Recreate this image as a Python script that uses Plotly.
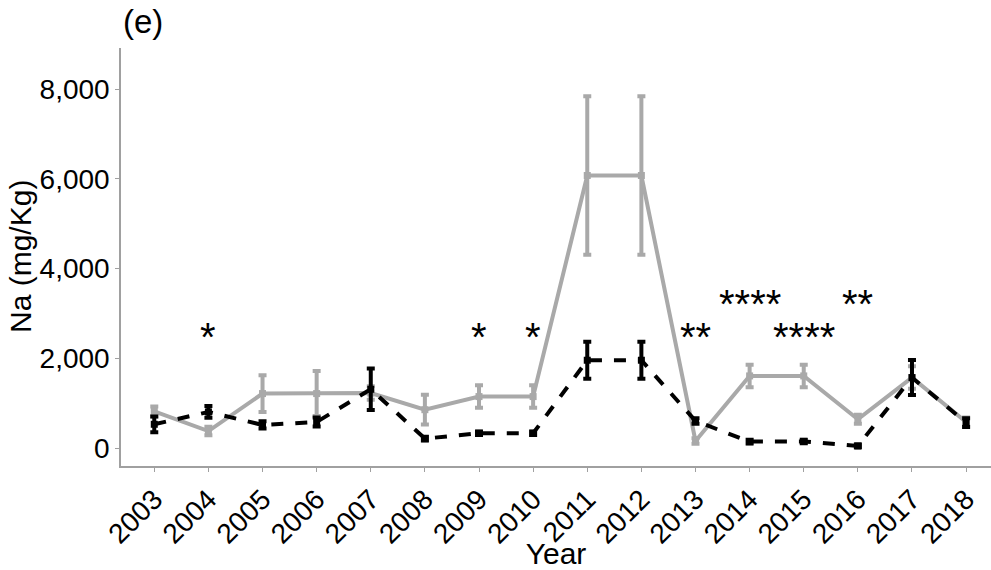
import plotly.graph_objects as go

years = [str(y) for y in range(2003, 2019)]
gray_mean = [820, 385, 1219, 1219, 1230, 860, 1152, 1152, 6075, 6075, 163, 1612, 1612, 646, 1575, 587]
gray_err = [110, 95, 410, 500, 150, 330, 250, 250, 1765, 1765, 60, 250, 250, 100, 250, 100]
black_mean = [535, 810, 520, 587, 1315, 216, 334, 334, 1961, 1961, 609, 149, 153, 52, 1575, 572]
black_err = [175, 130, 80, 100, 460, 40, 40, 40, 410, 410, 60, 40, 40, 30, 390, 100]

sig_years = ["2004", "2009", "2010", "2013", "2014", "2015", "2016"]
sig_labels = ["*", "*", "*", "**", "****", "****", "**"]
sig_y = [2480, 2480, 2480, 2480, 3216, 2480, 3216]

GRAY = "#A9A9A9"
FONT = "Liberation Sans, Arial, sans-serif"

fig = go.Figure()
fig.add_trace(go.Scatter(
    x=years, y=gray_mean, mode="lines+markers",
    line=dict(color=GRAY, width=4),
    marker=dict(color=GRAY, size=7, symbol="square"),
    error_y=dict(type="data", array=gray_err, color=GRAY, thickness=4, width=4),
    showlegend=False,
))
fig.add_trace(go.Scatter(
    x=years, y=black_mean, mode="lines+markers",
    line=dict(color="black", width=4, dash="dash"),
    marker=dict(color="black", size=7, symbol="square"),
    error_y=dict(type="data", array=black_err, color="black", thickness=4, width=4),
    showlegend=False,
))

for xv, lab, yv in zip(sig_years, sig_labels, sig_y):
    fig.add_annotation(x=years.index(xv), y=yv, text=lab, showarrow=False,
                       font=dict(family=FONT, size=40, color="black"),
                       yanchor="middle", xanchor="center")

fig.add_annotation(xref="paper", yref="paper", x=0, y=1, yshift=6,
                   xanchor="left", yanchor="bottom", text="(e)", showarrow=False,
                   font=dict(family=FONT, size=33, color="black"))

fig.add_annotation(xref="paper", yref="paper", x=0, y=0.5, xshift=-101,
                   xanchor="center", yanchor="middle", textangle=-90,
                   text="Na (mg/Kg)", showarrow=False,
                   font=dict(family=FONT, size=30, color="black"))

fig.update_layout(
    width=991, height=570,
    margin=dict(l=121, r=0, t=48, b=104),
    plot_bgcolor="white", paper_bgcolor="white",
    font=dict(family=FONT, color="black"),
)
fig.update_xaxes(
    type="category", range=[-0.615, 15.46],
    showline=True, linecolor="#A0A0A0", linewidth=1.5,
    ticks="outside", ticklen=4, tickcolor="#A0A0A0",
    tickangle=-45, tickfont=dict(size=28, family=FONT, color="black"),
    showgrid=False, zeroline=False,
    title=dict(text="Year", font=dict(size=30, family=FONT, color="black"), standoff=0),
)
fig.update_yaxes(
    range=[-394, 8914],
    tickvals=[0, 2000, 4000, 6000, 8000], ticktext=["0", "2,000", "4,000", "6,000", "8,000"],
    showline=True, linecolor="#A0A0A0", linewidth=1.5,
    ticks="outside", ticklen=4, tickcolor="#A0A0A0",
    tickfont=dict(size=28, family=FONT, color="black"),
    showgrid=False, zeroline=False,
)

fig.write_html("out.html")
